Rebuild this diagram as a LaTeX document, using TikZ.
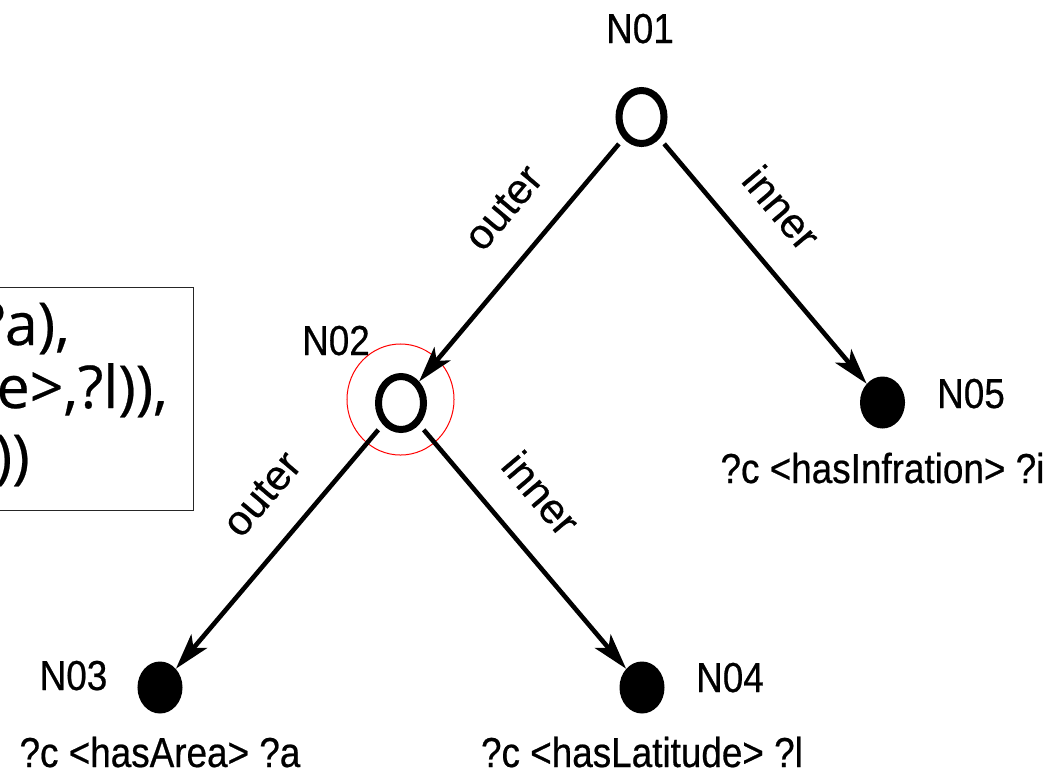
\documentclass[tikz,border=0pt]{standalone}
\usepackage{fontspec}
\setmainfont[FakeBold=0.4]{Liberation Sans}
\newfontfamily\labfont[FakeStretch=0.88,FakeBold=0.5]{Liberation Sans}
\newfontfamily\boxfont[FakeBold=0.4]{Open Sans}
\usetikzlibrary{arrows.meta,shapes.geometric}
\begin{document}
\begin{tikzpicture}[x=0.025cm,y=-0.025cm,
  opennode/.style={ellipse,draw,line width=0.175cm,minimum width=1.125cm,minimum height=1.325cm,inner sep=0pt},
  fillnode/.style={ellipse,fill,minimum width=1.125cm,minimum height=1.3cm,inner sep=0pt},
  namelab/.style={font=\labfont\fontsize{29.8}{34}\selectfont,anchor=base,inner sep=0pt},
  triple/.style={font=\labfont\fontsize{29.8}{34}\selectfont,anchor=base,inner sep=0pt},
  edgearrow/.style={line width=0.115cm,-{Stealth[length=0.9cm,width=0.52cm,inset=0.22cm]},shorten <=0.175cm},
  elab/.style={font=\fontsize{30}{34}\selectfont,sloped,above=0.775cm,inner sep=0pt,pos=0.41},
  boxline/.style={font=\boxfont\fontsize{42}{48}\selectfont,anchor=base east,inner sep=0pt}]
\useasboundingbox (0,0) rectangle (1062,771);
\clip (0,0) rectangle (1062,771);
\fill[white] (0,0) rectangle (1062,771);

% query box (cut off at the left edge)
\node[draw=black!85,line width=0.035cm,anchor=north east,minimum width=6.1cm,minimum height=5.575cm,inner sep=0pt] (qbox) at (194,287) {};
\node[boxline] (q1) at (70,345) {?a),};
\node[boxline] (q2) at (168,408) {e>,?l)),};
\node[boxline] (q3) at (30,477) {))};

% tree nodes
\node[opennode] (n1) at (641.5,117) {};
\node[opennode] (n2) at (401,403) {};
\node[fillnode] (n3) at (160,687.5) {};
\node[fillnode] (n4) at (642,687.5) {};
\node[fillnode] (n5) at (882.5,402.5) {};

% highlight
\node[ellipse,draw=red,line width=0.025cm,minimum width=2.675cm,minimum height=2.775cm,inner sep=0pt] (hl) at (400.5,399.5) {};

% names
\node[namelab] (l1) at (640,43) {N01};
\node[namelab] (l2) at (336,355) {N02};
\node[namelab] (l3) at (73.5,690) {N03};
\node[namelab] (l4) at (730,692) {N04};
\node[namelab] (l5) at (971,408) {N05};

% triple patterns
\node[triple] (t3) at (160,767) {?c <hasArea> ?a};
\node[triple] (t4) at (642,767) {?c <hasLatitude> ?l};
\node[triple] (t5) at (882.5,483) {?c <hasInfration> ?i};

% edges
\draw[edgearrow] (n1) -- node[elab] (e1) {outer} (n2);
\draw[edgearrow] (n1) -- node[elab] (e2) {inner} (n5);
\draw[edgearrow] (n2) -- node[elab] (e3) {outer} (n3);
\draw[edgearrow] (n2) -- node[elab] (e4) {inner} (n4);
\end{tikzpicture}
\end{document}
